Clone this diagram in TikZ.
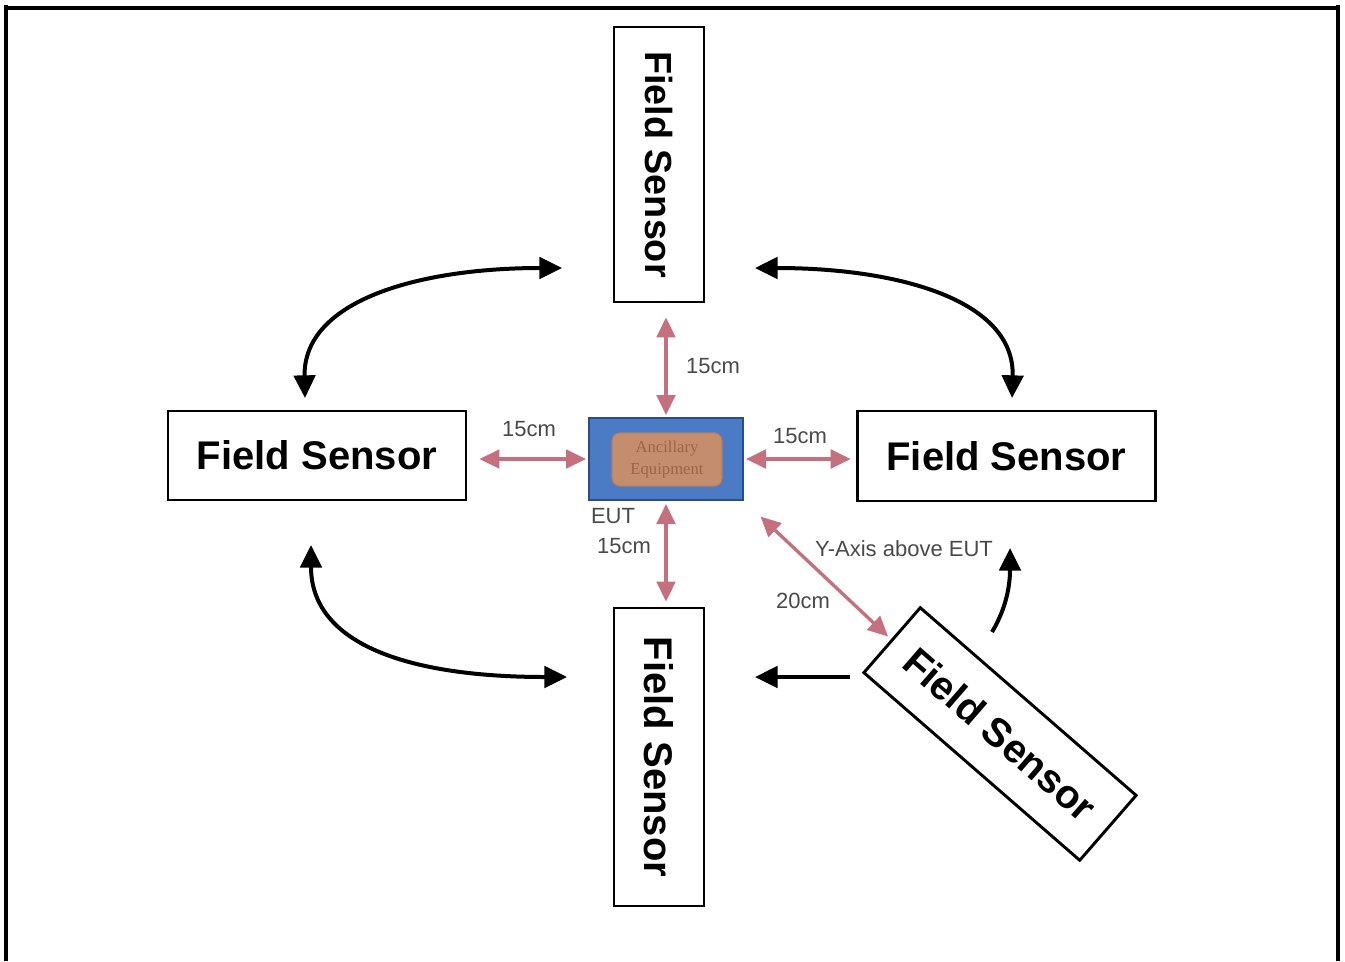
\documentclass[tikz,border=0pt]{standalone}
\usepackage{fontspec}
\setmainfont{Liberation Sans}
\newfontfamily\serifnote{Liberation Serif}
\usetikzlibrary{arrows.meta}
\definecolor{pinkarr}{HTML}{C4707E}
\definecolor{eutblue}{HTML}{4A7BC4}
\definecolor{eutedge}{HTML}{2B4C86}
\definecolor{ancfill}{HTML}{C48E6E}
\definecolor{ancedge}{HTML}{B27C5E}
\definecolor{anctext}{HTML}{9C6448}
\definecolor{labgrey}{HTML}{4A4A4A}
\begin{document}
\begin{tikzpicture}[x=0.75pt,y=-0.75pt,
 sensor/.style={draw=black, line width=2.2pt, fill=white, font=\fontsize{30}{36}\selectfont\bfseries, inner sep=0pt, align=center},
 pk/.style={draw=pinkarr, line width=2.5pt, {Triangle[length=15pt,width=14pt]}-{Triangle[length=15pt,width=14pt]}},
 bk/.style={draw=black, line width=3pt, -{Triangle[length=17pt,width=16pt]}},
 bkk/.style={draw=black, line width=3pt, {Triangle[length=17pt,width=16pt]}-{Triangle[length=17pt,width=16pt]}},
 lab/.style={text=labgrey, font=\fontsize{16.5}{20}\selectfont, inner sep=0pt},
]
\useasboundingbox (0,0) rectangle (1345,961);
\fill[white] (0,0) rectangle (1345,961);
% frame
\draw[line width=3pt] (6,961) -- (6,5);
\draw[line width=3pt] (1338,961) -- (1338,5);
\draw[line width=3pt] (6,8) -- (1338,8);

% sensors
\node[sensor, rotate=-90, minimum width=206.25pt, minimum height=67.5pt, font=\fontsize{28.3}{34}\selectfont\bfseries] (top) at (659,164.5) {Field Sensor};
\node[sensor, rotate=-90, minimum width=223.5pt, minimum height=67.5pt] (bottom) at (659,757) {Field Sensor};
\node[sensor, minimum width=223.5pt, minimum height=66.75pt] (left) at (317,455.5) {Field Sensor};
\node[sensor, minimum width=224pt, minimum height=67.5pt] (right) at (1006.5,456) {Field Sensor};
\node[sensor, rotate=-41, minimum width=214.5pt, minimum height=64.5pt] (diag) at (1000,734) {Field Sensor};

% EUT
\node[draw=eutedge, line width=1.5pt, fill=eutblue, minimum width=115.5pt, minimum height=61.5pt, inner sep=0pt] (eut) at (666,459) {};
\node[fill=ancfill, draw=ancedge, line width=0.8pt, rounded corners=6pt, minimum width=82.5pt, minimum height=40pt, text=anctext, font=\serifnote\fontsize{12.5}{16.5}\selectfont, align=center, inner sep=0pt] (anc) at (667,459.5) {Ancillary\\Equipment};

% pink distance arrows
\draw[pk, shorten <=1.5pt, shorten >=10.5pt] (eut.north) -- (eut.north |- top.east);
\draw[pk, shorten <=1.5pt, shorten >=9pt] (eut.west) -- (eut.west -| left.east);
\draw[pk, shorten <=1.5pt, shorten >=3.75pt] (eut.east) -- (eut.east -| right.west);
\draw[pk, shorten <=2.25pt, shorten >=3.75pt] (eut.south) -- (eut.south |- bottom.west);
\draw[pk, shorten <=17pt, shorten >=3pt] (eut.south east) -- (diag.west);

% labels
\node[lab] (l1) at (713,366) {15cm};
\node[lab] (l2) at (529,429) {15cm};
\node[lab] (l3) at (800,436) {15cm};
\node[lab] (l4) at (624,546) {15cm};
\node[lab] (eutlab) at (613,516) {EUT};
\node[lab] (yax) at (904,549) {Y-Axis above EUT};
\node[lab] (l5) at (803,601) {20cm};

% black movement arrows
\coordinate (a1) at (305,398);
\coordinate (a2) at (562,268);
\coordinate (b1) at (755,268);
\coordinate (b2) at (1012,398);
\coordinate (c1) at (311,545);
\coordinate (c2) at (567,677);
\coordinate (d1) at (850,677);
\coordinate (d2) at (755,677);
\coordinate (e1) at (992,632);
\coordinate (e2) at (1010,548);
\draw[bkk] (a1) .. controls (303,300) and (420,268) .. (a2);
\draw[bkk] (b1) .. controls (898,268) and (1015,300) .. (b2);
\draw[bkk] (c1) .. controls (311,645) and (410,677) .. (c2);
\draw[bk] (d1) -- (d2);
\draw[bk] (e1) .. controls (1004,612) and (1010,590) .. (e2);
\end{tikzpicture}
\end{document}
